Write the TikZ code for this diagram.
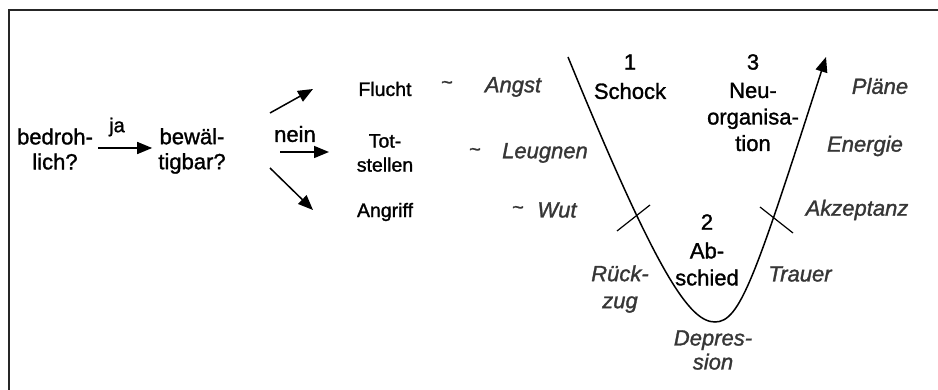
\documentclass[tikz,border=0pt]{standalone}
\usepackage{fontspec}
\setmainfont{Liberation Sans}[FakeBold=1.3, ItalicFeatures={FakeBold=1.3}]
\usetikzlibrary{arrows.meta}
\definecolor{lab}{HTML}{363636}
\begin{document}
\begin{tikzpicture}[x=1pt,y=-1pt,
  lbl/.style={align=center, font=\fontsize{22}{25}\selectfont, inner sep=0pt},
  sml/.style={align=center, font=\fontsize{19.5}{24}\selectfont, inner sep=0pt},
  emo/.style={align=center, font=\fontsize{22}{25}\selectfont\itshape, text=lab, inner sep=0pt},
  til/.style={font=\fontsize{20}{20}\selectfont, text=lab, inner sep=0pt},
  arr/.style={line width=1.5pt, -{Triangle[length=15pt,width=12pt]}},
  tick/.style={line width=1.2pt},
  frame/.style={line width=2pt, black!85}
]
\useasboundingbox (0,0) rectangle (938,390);
\draw[frame] (8.5,390) -- (8.5,10.5) -- (938,10.5);

% left flow
\node[lbl] (bed) at (55,149) {bedroh-\\lich?};
\node[lbl] (bew) at (192,151) {bewäl-\\tigbar?};
\node[lbl,font=\fontsize{20}{24}\selectfont] (ja) at (117,127) {ja};
\node[lbl] (nein) at (295,134) {nein};
\coordinate (jy) at (0,148);
\draw[arr] ([xshift=5pt]bed.east |- jy) -- ([xshift=-6pt]bew.west |- jy);

\node[sml] (flucht) at (385,89) {Flucht};
\node[sml] (tot) at (385,153) {Tot-\\stellen};
\node[sml] (angriff) at (385,212) {Angriff};

\coordinate (u1) at (270,113); \coordinate (u2) at (313,89);
\coordinate (m1) at (280,152); \coordinate (m2) at (329,152);
\coordinate (d1) at (270,168); \coordinate (d2) at (313,210);
\draw[arr] (u1) -- (u2);
\draw[arr] (m1) -- (m2);
\draw[arr] (d1) -- (d2);

% emotions left
\node[til] (t1) at (447,85) {\textasciitilde};
\node[emo] (angst) at (513,87) {Angst};
\node[til] (t2) at (475,152) {\textasciitilde};
\node[emo] (leugnen) at (545,153) {Leugnen};
\node[til] (t3) at (518,210) {\textasciitilde};
\node[emo] (wut) at (557,210) {Wut};

% V curve
\coordinate (vtop) at (568,57);
\coordinate (vbot) at (715,322);
\coordinate (vtip) at (826,57);
\draw[arr] (vtop) .. controls (658,277) and (690,322) .. (vbot)
  .. controls (740,322) and (755,278) .. (vtip);

% ticks
\coordinate (lt1) at (617,231); \coordinate (lt2) at (650,205);
\coordinate (rt1) at (760,207); \coordinate (rt2) at (793,233);
\draw[tick] (lt1) -- (lt2);
\draw[tick] (rt1) -- (rt2);

% phases
\node[lbl] (n1) at (630,62) {1};
\node[lbl] (schock) at (630,91) {Schock};
\node[lbl] (n3) at (753,62) {3};
\node[lbl,font=\fontsize{22}{26.5}\selectfont] (neu) at (753,117) {Neu-\\organisa-\\tion};
\node[lbl] (n2) at (707,222) {2};
\node[lbl,font=\fontsize{22}{27}\selectfont] (absch) at (707,264) {Ab-\\schied};

% emotions right / bottom
\node[emo] (plaene) at (880,86) {Pläne};
\node[emo] (energie) at (865,146) {Energie};
\node[emo] (akz) at (857,210) {Akzeptanz};
\node[emo,font=\fontsize{22}{27}\selectfont\itshape] (rueck) at (620,289) {Rück-\\zug};
\node[emo] (trauer) at (800,274) {Trauer};
\node[emo,font=\fontsize{22}{24}\selectfont\itshape] (depr) at (713,350) {Depres-\\sion};
\end{tikzpicture}
\end{document}
